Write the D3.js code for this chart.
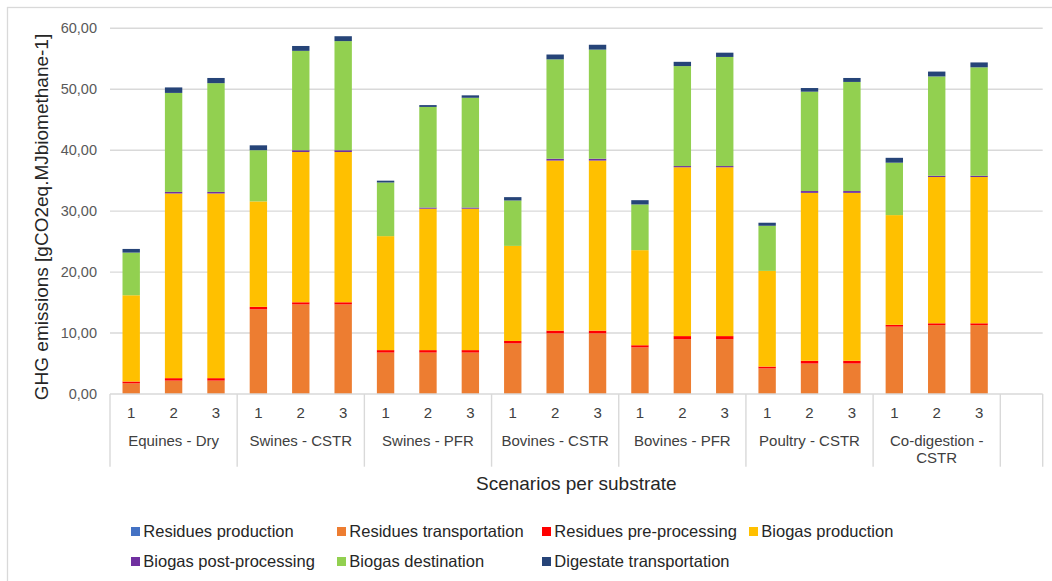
<!DOCTYPE html>
<html>
<head>
<meta charset="utf-8">
<script src="https://cdn.jsdelivr.net/npm/d3@7"></script>
<style>
  html, body { margin: 0; padding: 0; background: #fff; }
  svg { display: block; font-family: "Liberation Sans", Arial, sans-serif; }
</style>
</head>
<body>
<svg id="chart" width="1052" height="581"></svg>
<script>
// ---------- DATA ----------
const groups = ["Equines - Dry", "Swines - CSTR", "Swines - PFR", "Bovines - CSTR", "Bovines - PFR", "Poultry - CSTR", "Co-digestion - CSTR"];
const scenarios = ["1", "2", "3"];
const seriesNames = ["Residues production", "Residues transportation", "Residues pre-processing", "Biogas production", "Biogas post-processing", "Biogas destination", "Digestate transportation"];
const seriesColors = ["#4472C4", "#ED7D31", "#FF0000", "#FFC000", "#7030A0", "#92D050", "#264478"];

const residuesProduction      = [0, 0, 0,  0, 0, 0,  0, 0, 0,  0, 0, 0,  0, 0, 0,  0, 0, 0,  0, 0, 0];
const residuesTransportation  = [1.75, 2.2, 2.2,  13.9, 14.7, 14.7,  6.8, 6.8, 6.8,  8.3, 9.95, 9.95,  7.65, 9.0, 9.0,  4.2, 5.0, 5.0,  11.05, 11.3, 11.3];
const residuesPreprocessing   = [0.3, 0.4, 0.4,  0.4, 0.35, 0.35,  0.4, 0.4, 0.4,  0.4, 0.45, 0.45,  0.35, 0.5, 0.5,  0.3, 0.45, 0.45,  0.3, 0.3, 0.3];
const biogasProduction        = [14.15, 30.3, 30.3,  17.3, 24.65, 24.65,  18.7, 23.2, 23.2,  15.6, 27.9, 27.9,  15.6, 27.7, 27.7,  15.7, 27.55, 27.55,  18.0, 24.0, 24.0];
const biogasPostprocessing    = [0, 0.25, 0.25,  0, 0.3, 0.3,  0, 0.2, 0.2,  0, 0.3, 0.3,  0, 0.2, 0.2,  0, 0.3, 0.3,  0, 0.2, 0.2];
const biogasDestination       = [7.0, 16.25, 17.85,  8.4, 16.3, 17.9,  8.8, 16.5, 18.0,  7.45, 16.3, 17.9,  7.5, 16.4, 17.9,  7.4, 16.3, 17.9,  8.6, 16.3, 17.8];
const digestateTransportation = [0.6, 0.9, 0.85,  0.8, 0.8, 0.8,  0.3, 0.3, 0.4,  0.55, 0.8, 0.8,  0.7, 0.7, 0.7,  0.5, 0.6, 0.65,  0.8, 0.8, 0.8];

const yTicks = [0, 10, 20, 30, 40, 50, 60];
const yTitle = "GHG emissions [gCO2eq.MJbiomethane-1]";
const xTitle = "Scenarios per substrate";

// ---------- BUILD TABLE ----------
const seriesValues = [residuesProduction, residuesTransportation, residuesPreprocessing, biogasProduction, biogasPostprocessing, biogasDestination, digestateTransportation];
const rows = [];
groups.forEach((g, gi) => {
  scenarios.forEach((s, si) => {
    const idx = gi * scenarios.length + si;
    const row = { key: g + "|" + s, group: g, scenario: s };
    seriesNames.forEach((n, k) => { row[n] = seriesValues[k][idx]; });
    rows.push(row);
  });
});
const slotKeys = rows.map(r => r.key).concat(["__blank__"]);

// ---------- LAYOUT ----------
const svg = d3.select("#chart");
const plot = { left: 110, right: 1042.7, top: 28.3, bottom: 394 };

const x = d3.scaleBand().domain(slotKeys).range([plot.left, plot.right])
  .paddingInner(0.59).paddingOuter(0.295);
const y = d3.scaleLinear().domain([0, 60]).range([plot.bottom, plot.top]);
const fmt = v => d3.format(".2f")(v).replace(".", ",");

// outer border
svg.append("rect").attr("x", 7.5).attr("y", 7.5).attr("width", 1060).attr("height", 600)
  .attr("fill", "none").attr("stroke", "#d9d9d9").attr("stroke-width", 1.3);

// gridlines
svg.append("g").selectAll("line").data(yTicks.filter(t => t > 0)).join("line")
  .attr("x1", plot.left).attr("x2", plot.right)
  .attr("y1", d => y(d)).attr("y2", d => y(d))
  .attr("stroke", "#d9d9d9").attr("stroke-width", 1.4);

// y tick labels
const yAxis = d3.axisLeft(y).tickValues(yTicks).tickFormat(fmt).tickSize(0).tickPadding(13);
const yg = svg.append("g").attr("transform", `translate(${plot.left},0)`).call(yAxis);
yg.select(".domain").remove();
yg.selectAll("text").attr("font-size", 14.5).attr("fill", "#595959")
  .attr("font-family", '"Liberation Sans", Arial, sans-serif');

// stacked bars
const stack = d3.stack().keys(seriesNames);
const stacked = stack(rows);
svg.append("g").selectAll("g").data(stacked).join("g")
  .attr("fill", (d, i) => seriesColors[i])
  .selectAll("rect").data(d => d).join("rect")
  .attr("x", d => x(d.data.key))
  .attr("width", x.bandwidth())
  .attr("y", d => y(d[1]))
  .attr("height", d => Math.max(0, y(d[0]) - y(d[1])));

// x axis line
svg.append("line").attr("x1", plot.left).attr("x2", plot.right)
  .attr("y1", plot.bottom).attr("y2", plot.bottom)
  .attr("stroke", "#d9d9d9").attr("stroke-width", 1.4);

// scenario labels
const xAxis = d3.axisBottom(x).tickValues(rows.map(r => r.key)).tickFormat(k => k.split("|")[1]).tickSize(0).tickPadding(0);
const xg = svg.append("g").attr("transform", `translate(0,${plot.bottom})`).call(xAxis);
xg.select(".domain").remove();
xg.selectAll("text").attr("dy", null).attr("y", 23.5).attr("font-size", 15).attr("fill", "#404040")
  .attr("font-family", '"Liberation Sans", Arial, sans-serif');

// group separators (group boundaries + blank trailing slot)
const step = x.step();
const bounds = d3.range(groups.length + 1).map(i => plot.left + i * scenarios.length * step).concat([plot.right]);
svg.append("g").selectAll("line").data(bounds).join("line")
  .attr("x1", d => d).attr("x2", d => d)
  .attr("y1", plot.bottom).attr("y2", 466.7)
  .attr("stroke", "#d9d9d9").attr("stroke-width", 1.4);

// group labels (wrapped)
const gLabels = svg.append("g");
groups.forEach((g, gi) => {
  const cx = plot.left + (gi + 0.5) * scenarios.length * step;
  const maxW = scenarios.length * step - 8;
  const t = gLabels.append("text").attr("x", cx).attr("y", 446)
    .attr("text-anchor", "middle").attr("font-size", 15).attr("fill", "#404040");
  const words = g.split(" ");
  let line = [];
  let tspan = t.append("tspan").attr("x", cx).attr("dy", 0);
  words.forEach(w => {
    line.push(w);
    tspan.text(line.join(" "));
    if (tspan.node().getComputedTextLength() > maxW && line.length > 1) {
      line.pop();
      tspan.text(line.join(" "));
      line = [w];
      tspan = t.append("tspan").attr("x", cx).attr("dy", 17).text(w);
    }
  });
});

// axis titles
svg.append("text").attr("transform", `translate(48,217) rotate(-90)`)
  .attr("text-anchor", "middle").attr("font-size", 19).attr("fill", "#262626").text(yTitle);
svg.append("text").attr("x", (plot.left + plot.right) / 2).attr("y", 490)
  .attr("text-anchor", "middle").attr("font-size", 19).attr("fill", "#262626").text(xTitle);

// legend
const legendCols = [131, 337, 542, 749];
const legendRows = [531.5, 561.5];
const leg = svg.append("g");
seriesNames.forEach((n, i) => {
  const col = i < 4 ? i : i - 4;
  const row = i < 4 ? 0 : 1;
  const lx = legendCols[col], ly = legendRows[row];
  leg.append("rect").attr("x", lx).attr("y", ly - 4.5).attr("width", 9).attr("height", 9).attr("fill", seriesColors[i]);
  leg.append("text").attr("x", lx + 12.3).attr("y", ly + 5.8)
    .attr("font-size", 16.5).attr("fill", "#262626").text(n);
});
</script>
</body>
</html>
